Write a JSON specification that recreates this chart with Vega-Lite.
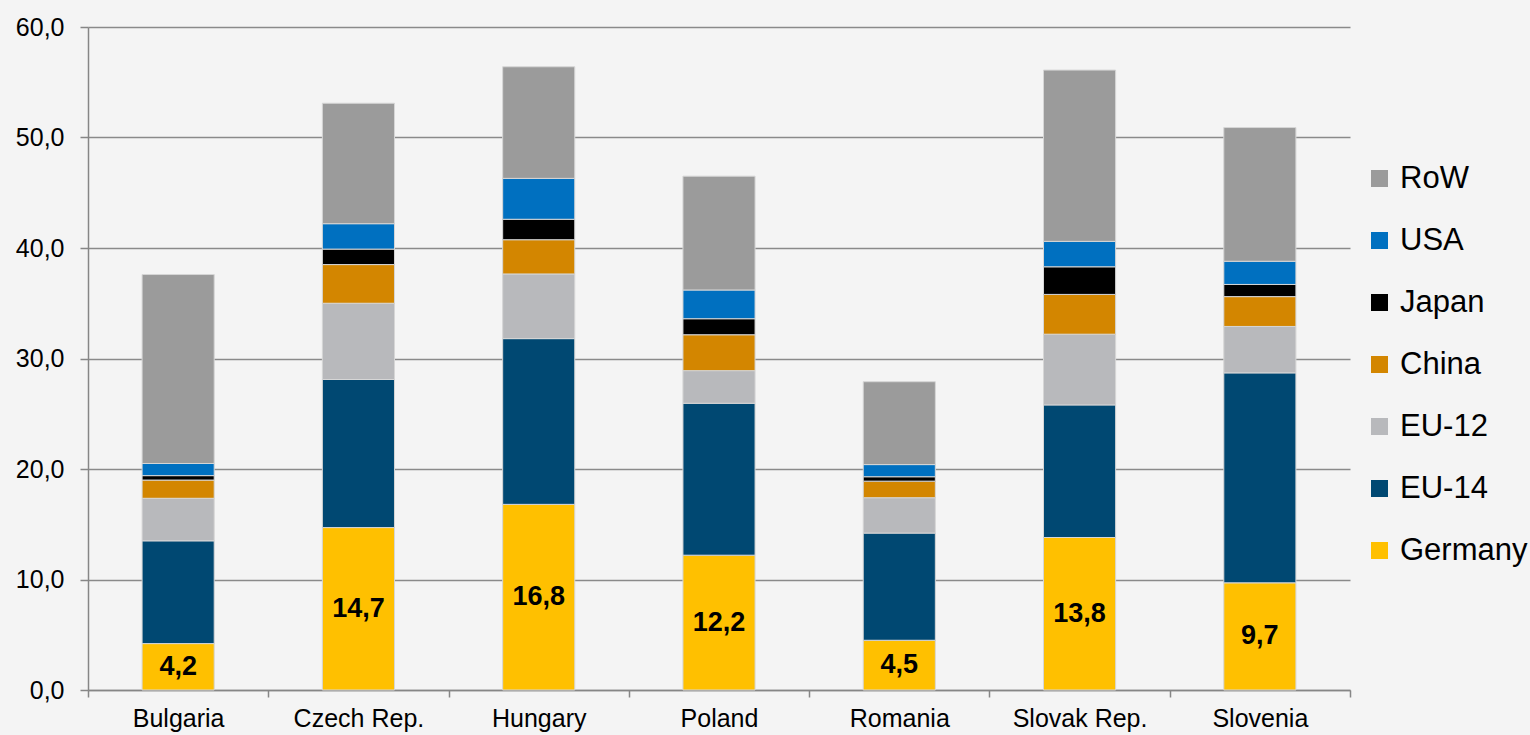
{
  "$schema": "https://vega.github.io/schema/vega-lite/v6.json",
  "width": 1262,
  "height": 663,
  "autosize": {"type": "none"},
  "padding": {"left": 88, "top": 27, "right": 180, "bottom": 45},
  "background": "#f4f4f4",
  "config": {
    "locale": {"number": {"decimal": ",", "thousands": ".", "grouping": [3], "currency": ["", " €"]}},
    "view": {"stroke": null},
    "font": "Liberation Sans"
  },
  "data": {
    "values": [
      {"country": "Bulgaria", "source": "Germany", "value": 4.2},
      {"country": "Bulgaria", "source": "EU-14", "value": 9.3},
      {"country": "Bulgaria", "source": "EU-12", "value": 3.85},
      {"country": "Bulgaria", "source": "China", "value": 1.65},
      {"country": "Bulgaria", "source": "Japan", "value": 0.4},
      {"country": "Bulgaria", "source": "USA", "value": 1.1},
      {"country": "Bulgaria", "source": "RoW", "value": 17.1},
      {"country": "Czech Rep.", "source": "Germany", "value": 14.7},
      {"country": "Czech Rep.", "source": "EU-14", "value": 13.4},
      {"country": "Czech Rep.", "source": "EU-12", "value": 6.9},
      {"country": "Czech Rep.", "source": "China", "value": 3.5},
      {"country": "Czech Rep.", "source": "Japan", "value": 1.4},
      {"country": "Czech Rep.", "source": "USA", "value": 2.3},
      {"country": "Czech Rep.", "source": "RoW", "value": 10.9},
      {"country": "Hungary", "source": "Germany", "value": 16.8},
      {"country": "Hungary", "source": "EU-14", "value": 15.0},
      {"country": "Hungary", "source": "EU-12", "value": 5.85},
      {"country": "Hungary", "source": "China", "value": 3.1},
      {"country": "Hungary", "source": "Japan", "value": 1.85},
      {"country": "Hungary", "source": "USA", "value": 3.7},
      {"country": "Hungary", "source": "RoW", "value": 10.1},
      {"country": "Poland", "source": "Germany", "value": 12.2},
      {"country": "Poland", "source": "EU-14", "value": 13.75},
      {"country": "Poland", "source": "EU-12", "value": 2.95},
      {"country": "Poland", "source": "China", "value": 3.25},
      {"country": "Poland", "source": "Japan", "value": 1.45},
      {"country": "Poland", "source": "USA", "value": 2.6},
      {"country": "Poland", "source": "RoW", "value": 10.3},
      {"country": "Romania", "source": "Germany", "value": 4.5},
      {"country": "Romania", "source": "EU-14", "value": 9.7},
      {"country": "Romania", "source": "EU-12", "value": 3.2},
      {"country": "Romania", "source": "China", "value": 1.5},
      {"country": "Romania", "source": "Japan", "value": 0.4},
      {"country": "Romania", "source": "USA", "value": 1.1},
      {"country": "Romania", "source": "RoW", "value": 7.5},
      {"country": "Slovak Rep.", "source": "Germany", "value": 13.8},
      {"country": "Slovak Rep.", "source": "EU-14", "value": 12.0},
      {"country": "Slovak Rep.", "source": "EU-12", "value": 6.4},
      {"country": "Slovak Rep.", "source": "China", "value": 3.6},
      {"country": "Slovak Rep.", "source": "Japan", "value": 2.5},
      {"country": "Slovak Rep.", "source": "USA", "value": 2.3},
      {"country": "Slovak Rep.", "source": "RoW", "value": 15.5},
      {"country": "Slovenia", "source": "Germany", "value": 9.7},
      {"country": "Slovenia", "source": "EU-14", "value": 19.0},
      {"country": "Slovenia", "source": "EU-12", "value": 4.2},
      {"country": "Slovenia", "source": "China", "value": 2.7},
      {"country": "Slovenia", "source": "Japan", "value": 1.1},
      {"country": "Slovenia", "source": "USA", "value": 2.1},
      {"country": "Slovenia", "source": "RoW", "value": 12.1}
    ]
  },
  "layer": [
    {
      "transform": [
        {"calculate": "indexof(['Germany','EU-14','EU-12','China','Japan','USA','RoW'], datum.source)", "as": "stackRank"}
      ],
      "mark": {"type": "bar", "stroke": "#d6d6d6", "strokeWidth": 1, "width": {"band": 0.4}},
      "encoding": {
        "x": {
          "field": "country", "type": "nominal", "sort": null,
          "scale": {"paddingInner": 0, "paddingOuter": 0},
          "axis": {
            "title": null, "labelAngle": 0, "labelFontSize": 25, "labelColor": "#000000",
            "labelPadding": 9, "tickBand": "extent", "tickSize": 7, "tickColor": "#868686",
            "tickWidth": 1.5, "domainColor": "#868686", "domainWidth": 1.5, "grid": false
          }
        },
        "y": {
          "field": "value", "type": "quantitative", "stack": "zero",
          "scale": {"domain": [0, 60], "nice": false},
          "axis": {
            "title": null, "values": [0, 10, 20, 30, 40, 50, 60], "format": ".1f",
            "labelFontSize": 25, "labelColor": "#000000", "labelPadding": 16,
            "tickSize": 8, "tickColor": "#868686", "tickWidth": 1.5,
            "domainColor": "#868686", "domainWidth": 1.5,
            "gridColor": "#8a8a8a", "gridWidth": 1.5
          }
        },
        "order": {"field": "stackRank", "type": "quantitative", "sort": "ascending"},
        "color": {
          "field": "source", "type": "nominal",
          "sort": ["RoW", "USA", "Japan", "China", "EU-12", "EU-14", "Germany"],
          "scale": {
            "domain": ["RoW", "USA", "Japan", "China", "EU-12", "EU-14", "Germany"],
            "range": ["#9b9b9b", "#0070c0", "#000000", "#d38600", "#b8b9bc", "#004872", "#ffc000"]
          },
          "legend": {
            "title": null, "orient": "none", "legendX": 1276, "legendY": 136,
            "symbolType": "square", "symbolSize": 289, "symbolStrokeWidth": 0,
            "labelFontSize": 31, "labelColor": "#000000", "labelOffset": 5,
            "rowPadding": 30, "padding": 0
          }
        }
      }
    },
    {
      "transform": [{"filter": "datum.source === 'Germany'"}],
      "mark": {"type": "text", "fontSize": 27, "fontWeight": "bold", "baseline": "middle", "color": "#000000"},
      "encoding": {
        "x": {"field": "country", "type": "nominal", "sort": null},
        "y": {"field": "value", "type": "quantitative", "scale": {"domain": [0, 120], "nice": false}, "axis": null},
        "text": {"field": "value", "type": "quantitative", "format": ".1f"}
      }
    }
  ],
  "resolve": {"scale": {"y": "independent"}}
}
